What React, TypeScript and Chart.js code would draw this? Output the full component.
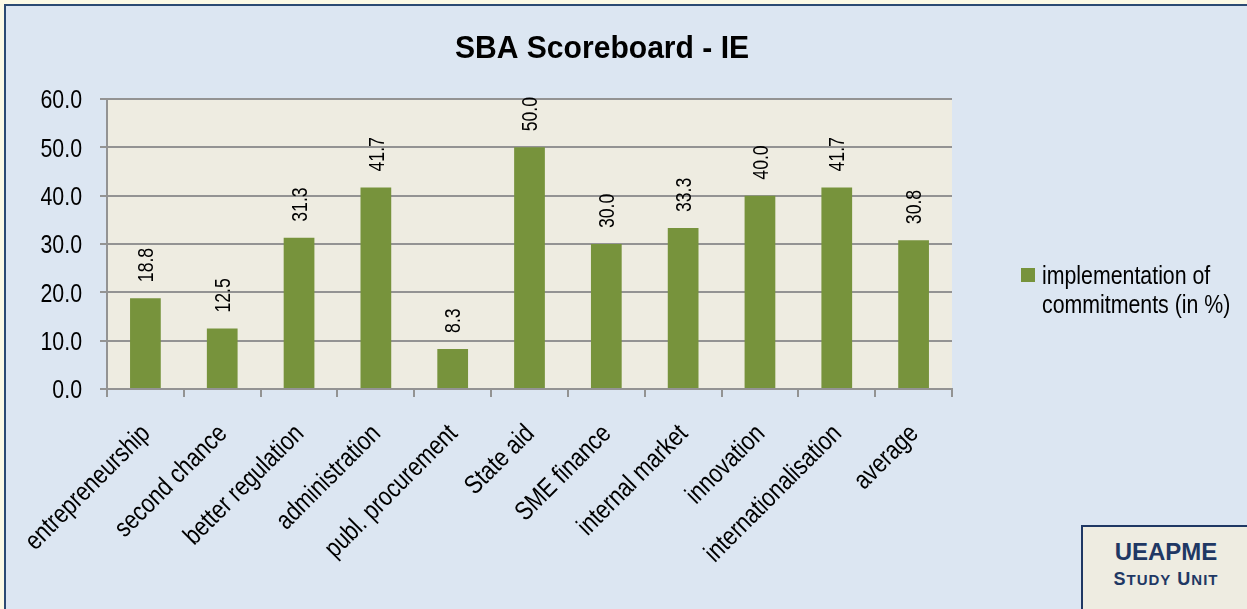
import React, { useEffect, useRef } from "react";
import { Chart, registerables } from "chart.js";

Chart.register(...registerables);

const chartTitle = "SBA Scoreboard - IE";
const categories = [
  "entrepreneurship",
  "second chance",
  "better regulation",
  "administration",
  "publ. procurement",
  "State aid",
  "SME finance",
  "internal market",
  "innovation",
  "internationalisation",
  "average",
];
const values = [18.8, 12.5, 31.3, 41.7, 8.3, 50.0, 30.0, 33.3, 40.0, 41.7, 30.8];
const seriesLabelLines = ["implementation of", "commitments (in %)"];
const yMin = 0;
const yMax = 60;
const yStep = 10;
const badgeTitle = "UEAPME";

const W = 1247;
const H = 609;
const SANS = '"Liberation Sans", Arial, sans-serif';
const NARROW_X = 0.82; // emulate a narrow face by squeezing horizontally
const BAR = "#77933c";
const PLOT_BG = "#eeece1";
const GRID = "#939393";
const NAVY = "#1f3864";

function narrowText(ctx: any, text: string, x: number, y: number, angle: number, align: string, size: number, scale = NARROW_X) {
  ctx.save();
  ctx.translate(x, y);
  ctx.rotate(angle);
  ctx.scale(scale, 1);
  ctx.font = `${size}px ${SANS}`;
  ctx.textAlign = align;
  ctx.textBaseline = "alphabetic";
  ctx.fillText(text, 0, 0);
  ctx.restore();
}

const decorPlugin = {
  id: "decor",
  beforeDraw(chart: any) {
    const { ctx, chartArea } = chart;
    ctx.save();
    ctx.fillStyle = PLOT_BG;
    ctx.fillRect(chartArea.left, chartArea.top, chartArea.right - chartArea.left, chartArea.bottom - chartArea.top);
    ctx.restore();
  },
  afterDatasetsDraw(chart: any) {
    const { ctx } = chart;
    const meta = chart.getDatasetMeta(0);
    ctx.save();
    ctx.fillStyle = "#000";
    const fs = 21.5;
    meta.data.forEach((bar: any, i: number) => {
      narrowText(ctx, values[i].toFixed(1), bar.x + 0.358 * fs, bar.y - 16, -Math.PI / 2, "left", fs);
    });
    ctx.restore();
  },
  afterDraw(chart: any) {
    const { ctx } = chart;
    const xs = chart.scales.x;
    const ys = chart.scales.y;
    ctx.save();
    ctx.fillStyle = "#000";
    // y tick labels
    const fy = 26;
    for (let v = yMin; v <= yMax; v += yStep) {
      const py = ys.getPixelForValue(v);
      narrowText(ctx, v.toFixed(1), 82, py + 0.358 * fy, 0, "right", fy);
    }
    // category labels
    const fx = 26.5;
    categories.forEach((c, i) => {
      const px = xs.getPixelForTick(i);
      narrowText(ctx, c, px + 6, 435, -Math.PI / 4, "right", fx);
    });
    // title
    ctx.save();
    ctx.translate(602, 58);
    ctx.scale(0.94, 1);
    ctx.font = `bold 32px ${SANS}`;
    ctx.textAlign = "center";
    ctx.textBaseline = "alphabetic";
    ctx.fillText(chartTitle, 0, 0);
    ctx.restore();
    // legend
    ctx.fillStyle = BAR;
    ctx.fillRect(1021, 268, 14, 14);
    ctx.fillStyle = "#000";
    seriesLabelLines.forEach((line, i) => {
      narrowText(ctx, line, 1042, 284 + i * 29, 0, "left", 26);
    });
    ctx.restore();
  },
};

export default function App() {
  const canvasRef = useRef<HTMLCanvasElement | null>(null);

  useEffect(() => {
    const canvas = canvasRef.current;
    if (!canvas) return;
    const chart = new Chart(canvas, {
      type: "bar",
      data: {
        labels: categories,
        datasets: [
          {
            label: seriesLabelLines.join(" "),
            data: values,
            backgroundColor: BAR,
            borderWidth: 0,
            barPercentage: 0.4,
            categoryPercentage: 1,
          },
        ],
      },
      options: {
        responsive: false,
        animation: false,
        devicePixelRatio: 1,
        layout: { padding: { top: 99, right: 295, left: 0, bottom: 0 } },
        plugins: {
          legend: { display: false },
          title: { display: false },
          tooltip: { enabled: false },
        },
        scales: {
          x: {
            offset: true,
            grid: {
              offset: true,
              drawOnChartArea: false,
              drawTicks: true,
              tickLength: 8,
              color: GRID,
              lineWidth: 2,
            },
            border: { display: true, color: GRID, width: 2 },
            ticks: { display: false, autoSkip: false },
            afterFit: (s: any) => {
              s.height = H - 389;
              s.paddingLeft = 0;
              s.paddingRight = 0;
            },
          },
          y: {
            min: yMin,
            max: yMax,
            grid: {
              color: GRID,
              tickLength: 7,
              drawTicks: true,
              lineWidth: 2,
            },
            border: { display: true, color: GRID, width: 2 },
            ticks: { display: false, stepSize: yStep },
            afterFit: (s: any) => {
              s.width = 107;
              s.paddingTop = 0;
              s.paddingBottom = 0;
            },
          },
        },
      },
      plugins: [decorPlugin],
    });
    return () => chart.destroy();
  }, []);

  return (
    <div
      style={{
        position: "fixed",
        left: 0,
        top: 0,
        width: W,
        height: H,
        overflow: "hidden",
        background: "#fcfae6",
      }}
    >
      <div
        style={{
          position: "absolute",
          left: 4,
          top: 4,
          width: W + 10,
          height: H + 10,
          boxSizing: "border-box",
          borderTop: "2px solid #2b4a73",
          borderLeft: "2px solid #2b4a73",
          background: "#dce6f2",
        }}
      />
      <canvas
        ref={canvasRef}
        width={W}
        height={H}
        style={{ position: "absolute", left: 0, top: 0, width: W, height: H }}
      />
      <div
        style={{
          position: "absolute",
          left: 1081,
          top: 525,
          width: 168,
          height: 100,
          boxSizing: "border-box",
          border: `2px solid ${NAVY}`,
          background: "#eeece1",
          color: NAVY,
          fontFamily: SANS,
          fontWeight: "bold",
          textAlign: "center",
        }}
      >
        <div style={{ fontSize: 24, lineHeight: "24px", marginTop: 13, paddingLeft: 2 }}>{badgeTitle}</div>
        <div style={{ fontSize: 18, lineHeight: "20px", marginTop: 5, letterSpacing: 1, paddingLeft: 2 }}>
          S<span style={{ fontSize: 15 }}>TUDY</span> U<span style={{ fontSize: 15 }}>NIT</span>
        </div>
      </div>
    </div>
  );
}
